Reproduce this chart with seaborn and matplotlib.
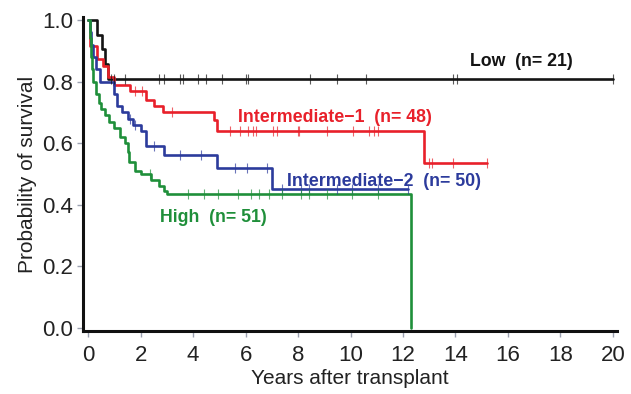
import numpy as np
import pandas as pd
import seaborn as sns
import matplotlib.pyplot as plt

# Kaplan-Meier steps (time in years, survival)
low_t = [0, 0.33, 0.52, 0.65, 0.75, 20.0]
low_s = [1.0, 0.952, 0.905, 0.857, 0.81, 0.81]
low_cens = [0.85, 1.0, 1.4, 2.7, 2.9, 3.5, 3.6, 4.2, 4.5, 5.1, 6.0, 6.1,
            8.45, 9.5, 10.6, 13.9, 14.05, 20.0]

int1_t = [0, 0.08, 0.35, 0.55, 0.75, 1.0, 1.6, 2.2, 2.5, 2.85, 4.8, 4.9, 12.8, 15.2]
int1_s = [1.0, 0.915, 0.875, 0.85, 0.815, 0.79, 0.77, 0.74, 0.72, 0.70, 0.675, 0.64,
          0.535, 0.535]
int1_cens = [1.8, 2.05, 3.2, 5.4, 5.8, 6.1, 6.3, 6.4, 7.05, 7.2, 8.0, 8.05, 9.1,
             10.1, 10.7, 10.9, 11.05, 13.0, 13.1, 13.9, 15.2]

int2_t = [0, 0.05, 0.1, 0.2, 0.3, 0.45, 1.0, 1.1, 1.3, 1.5, 1.7, 2.0, 2.2, 2.9,
          4.9, 7.0, 12.2]
int2_s = [1.0, 0.96, 0.92, 0.88, 0.84, 0.80, 0.76, 0.72, 0.70, 0.68, 0.66, 0.64,
          0.59, 0.56, 0.52, 0.45, 0.45]
int2_cens = [1.6, 1.8, 2.5, 3.5, 4.3, 5.6, 6.05, 6.8, 7.4, 8.1, 8.4, 9.5, 10.05,
             11.05, 12.2]

high_t = [0, 0.05, 0.1, 0.15, 0.2, 0.3, 0.4, 0.5, 0.65, 0.8, 1.0, 1.2, 1.4, 1.5,
          1.55, 1.8, 2.0, 2.4, 2.7, 2.9, 3.0, 12.3]
high_s = [1.0, 0.94, 0.88, 0.84, 0.80, 0.76, 0.73, 0.71, 0.69, 0.67, 0.65, 0.62,
          0.60, 0.57, 0.54, 0.51, 0.50, 0.48, 0.46, 0.443, 0.435, 0.0]
high_cens = [2.35, 3.8, 4.4, 4.95, 5.7, 6.2, 6.5, 6.9, 7.4, 8.1, 8.4, 9.1, 10.05, 11.05]

groups = ['Low', 'Intermediate-1', 'Intermediate-2', 'High']
labels = ['Low  (n= 21)', 'Intermediate\u22121  (n= 48)',
          'Intermediate\u22122  (n= 50)', 'High  (n= 51)']
colors = ['#141414', '#e8202a', '#2c3b9c', '#1f8f3a']
label_pos = [(14.55, 0.866), (5.7, 0.684), (7.58, 0.476), (2.74, 0.358)]

curves = [(low_t, low_s, low_cens), (int1_t, int1_s, int1_cens),
          (int2_t, int2_s, int2_cens), (high_t, high_s, high_cens)]

rows = []
cens_rows = []
for g, (t, s, c) in zip(groups, curves):
    for ti, si in zip(t, s):
        rows.append((g, ti, si))
    idx = np.searchsorted(t, c, side='right') - 1
    for ci, k in zip(c, idx):
        cens_rows.append((g, ci, s[k]))
df = pd.DataFrame(rows, columns=['group', 'years', 'surv'])
cens = pd.DataFrame(cens_rows, columns=['group', 'years', 'surv'])

sns.set_style('ticks')
plt.rcParams['font.family'] = ['Liberation Sans', 'DejaVu Sans']

fig = plt.figure(figsize=(6.31, 3.94), dpi=100)
ax = fig.add_axes([0.1315, 0.16, 0.846, 0.797])
pal = dict(zip(groups, colors))

sns.lineplot(data=df, x='years', y='surv', hue='group', palette=pal,
             drawstyle='steps-post', estimator=None, sort=False,
             linewidth=1.9, legend=False, ax=ax)
for g in groups:
    sub = cens[cens.group == g]
    ax.plot(sub.years, sub.surv, ls='none', marker='|', ms=7, mew=0.8,
            color=pal[g], alpha=0.7)

for lab, col, (x, y) in zip(labels, colors, label_pos):
    ax.text(x, y, lab, color=col, fontsize=12.8, fontweight='bold',
            va='center', ha='left')

ax.set_xlim(-0.2, 20.15)
ax.set_ylim(-0.01, 1.01)
ax.set_xticks(np.arange(0, 21, 2))
ax.set_yticks(np.arange(0, 1.01, 0.2))
ax.set_yticklabels([f'{v:.1f}' for v in np.arange(0, 1.01, 0.2)])
ax.set_xlabel('Years after transplant', fontsize=15, color='#222222', labelpad=2)
ax.set_ylabel('Probability of survival', fontsize=15, color='#222222', labelpad=4)
ax.tick_params(axis='both', length=4, width=1, color='#9aa0b0', labelsize=16,
               labelcolor='#222222', pad=3)
ax.tick_params(axis='x', pad=6)
for side in ['left', 'bottom']:
    ax.spines[side].set_linewidth(2.2)
    ax.spines[side].set_color('#111111')
sns.despine(ax=ax)

fig.savefig('out.png', dpi=100)
